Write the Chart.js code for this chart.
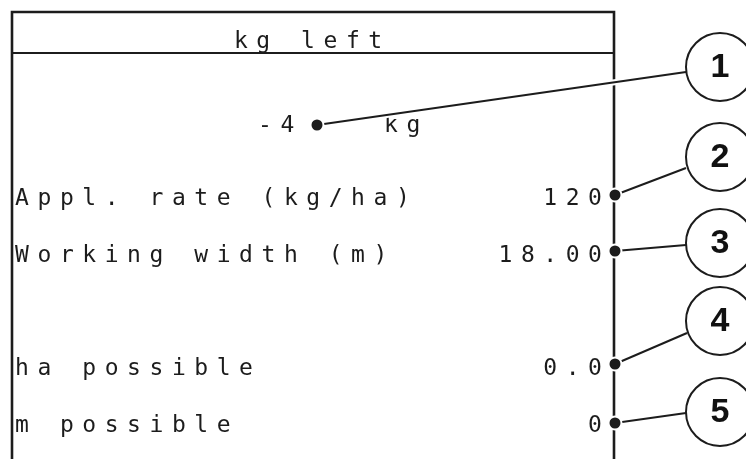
<!DOCTYPE html>
<html>
<head>
<meta charset="utf-8">
<script src="https://cdn.jsdelivr.net/npm/chart.js@4/dist/chart.umd.min.js"></script>
<style>
  html, body { margin: 0; padding: 0; background: #fff; }
  #wrap { width: 746px; height: 459px; position: relative; }
</style>
</head>
<body>
<div id="wrap"><canvas id="c"></canvas></div>
<script>
// ---- content ----
const headerTitle = "kg left";
const remainingValue = "-4";
const remainingUnit = "kg";
const rowLabels = ["Appl. rate (kg/ha)", "Working width (m)", "ha possible", "m possible"];
const rowValues = ["120", "18.00", "0.0", "0"];
const calloutNumbers = ["1", "2", "3", "4", "5"];

// ---- diagram layout (pixel coordinate system of the picture) ----
const rowBaselines = [205, 262, 375, 432];
const anchorX = [317, 615, 615, 615, 615];
const anchorY = [125, 195, 251, 364, 423];
const bubbleX = [720, 720, 720, 720, 720];
const bubbleY = [67, 157, 243, 321, 412];
const leaderEndX = [686, 686, 686, 687, 686];
const leaderEndY = [72, 168, 245, 333, 413];
const frameLeft = 12, frameRight = 614, frameTop = 12, frameRule = 53, frameBottom = 475;

const PITCH = 22.4;
const INK = '#1c1c1c';

// leader line datasets (one per callout), with white halo underneath
const leaderSets = [];
for (let i = 0; i < calloutNumbers.length; i++) {
  const pts = [{x: anchorX[i], y: anchorY[i]}, {x: leaderEndX[i], y: leaderEndY[i]}];
  leaderSets.push({type: 'line', data: pts, borderColor: '#fff', borderWidth: 6, pointRadius: 0, order: 8, clip: false});
  leaderSets.push({type: 'line', data: pts, borderColor: INK, borderWidth: 2, pointRadius: 0, order: 7, clip: false});
}

const frameSets = [
  {type: 'line', data: [{x: frameLeft, y: frameBottom}, {x: frameLeft, y: frameTop}, {x: frameRight, y: frameTop}, {x: frameRight, y: frameBottom}],
   borderColor: INK, borderWidth: 2.6, pointRadius: 0, order: 10, clip: false, borderJoinStyle: 'miter'},
  {type: 'line', data: [{x: frameLeft, y: frameRule}, {x: frameRight, y: frameRule}],
   borderColor: INK, borderWidth: 2, pointRadius: 0, order: 10, clip: false}
];

const bubbleSet = {
  type: 'scatter',
  data: bubbleX.map((x, i) => ({x, y: bubbleY[i]})),
  pointRadius: 34, pointStyle: 'circle', backgroundColor: '#fff', borderColor: INK, borderWidth: 2,
  order: 5, clip: false
};
const dotSet = {
  type: 'scatter',
  data: anchorX.map((x, i) => ({x, y: anchorY[i]})),
  pointRadius: 6.5, pointStyle: 'circle', backgroundColor: INK, borderColor: '#fff', borderWidth: 2,
  order: 1, clip: false
};

function spaced(ctx, text, firstCenter, baseline) {
  for (let i = 0; i < text.length; i++) {
    ctx.fillText(text[i], firstCenter + i * PITCH, baseline);
  }
}

const screenText = {
  id: 'screenText',
  beforeDatasetsDraw(chart) {
    const {ctx, scales: {x, y}} = chart;
    ctx.save();
    ctx.fillStyle = INK;
    ctx.font = '23px "DejaVu Sans Mono"';
    ctx.textAlign = 'center';
    ctx.textBaseline = 'alphabetic';
    // header, centred in frame
    const mid = (x.getPixelForValue(frameLeft) + x.getPixelForValue(frameRight)) / 2;
    spaced(ctx, headerTitle, mid - (headerTitle.length - 1) * PITCH / 2 - 5, y.getPixelForValue(48));
    // remaining quantity
    spaced(ctx, remainingValue, x.getPixelForValue(265), y.getPixelForValue(132));
    spaced(ctx, remainingUnit, x.getPixelForValue(391), y.getPixelForValue(132));
    // rows
    for (let r = 0; r < rowLabels.length; r++) {
      const b = y.getPixelForValue(rowBaselines[r]);
      spaced(ctx, rowLabels[r], x.getPixelForValue(22), b);
      const v = rowValues[r];
      spaced(ctx, v, x.getPixelForValue(595) - (v.length - 1) * PITCH, b);
    }
    ctx.restore();
  },
  afterDatasetsDraw(chart) {
    const {ctx, scales: {x, y}} = chart;
    ctx.save();
    ctx.fillStyle = '#111';
    ctx.font = 'bold 34px "Liberation Sans"';
    ctx.textAlign = 'center';
    ctx.textBaseline = 'middle';
    for (let i = 0; i < calloutNumbers.length; i++) {
      ctx.fillText(calloutNumbers[i], x.getPixelForValue(bubbleX[i]), y.getPixelForValue(bubbleY[i]) + 1);
    }
    ctx.restore();
  }
};

new Chart(document.getElementById('c'), {
  type: 'scatter',
  data: { datasets: [...frameSets, ...leaderSets, bubbleSet, dotSet] },
  options: {
    responsive: true,
    maintainAspectRatio: false,
    animation: false,
    events: [],
    layout: { padding: 0, autoPadding: false },
    plugins: { legend: { display: false }, tooltip: { enabled: false } },
    scales: {
      x: { type: 'linear', min: 0, max: 746, display: false },
      y: { type: 'linear', min: 0, max: 459, reverse: true, display: false }
    }
  },
  plugins: [screenText]
});
</script>
</body>
</html>
